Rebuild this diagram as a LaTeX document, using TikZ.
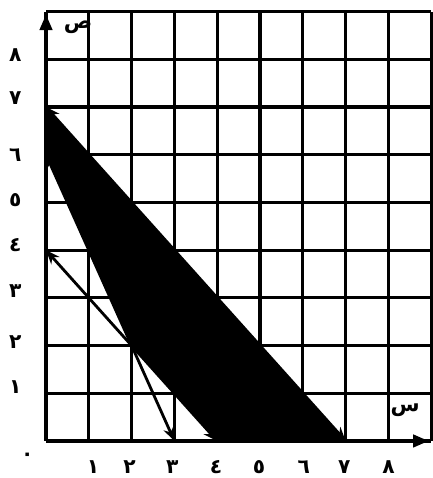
\documentclass[tikz,border=0pt]{standalone}
\usepackage{fontspec}
\newfontfamily\arabicfont[Script=Arabic]{DejaVu Sans}
\TeXXeTstate=1
\usepackage{tikz}
\usetikzlibrary{arrows.meta}

\begin{document}
\begin{tikzpicture}[
  x=0.856cm, y=0.954cm,
  gridline/.style={line width=1.8pt, black},
  axis/.style={line width=2.3pt, -{Triangle[length=0.32cm, width=0.24cm]}},
  region/.style={fill=black, draw=none},
  bound/.style={line width=1.6pt,
    {Stealth[length=0.28cm, width=0.22cm]}-{Stealth[length=0.28cm, width=0.22cm]}},
  num/.style={font=\arabicfont\bfseries\fontsize{11.5}{13}\selectfont, inner sep=0pt},
  axlbl/.style={font=\arabicfont\bfseries\fontsize{12}{14}\selectfont, inner sep=0pt}
]
\useasboundingbox (-1.075,-0.776) rectangle (9.019,9.245);

%% ── GRID ─────────────────────────────────────────────────
\draw[gridline, step={(1,1)}] (0,0) grid (9,9);

%% ── CORNER POINTS ────────────────────────────────────────
\coordinate (o)  at (0,0);
\coordinate (y4) at (0,4);
\coordinate (y6) at (0,6);
\coordinate (y7) at (0,7);
\coordinate (x3) at (3,0);
\coordinate (x4) at (4,0);
\coordinate (x7) at (7,0);
\coordinate (pt) at (2,2);
\coordinate (xend) at (8.95,0);
\coordinate (yend) at (0,8.95);

%% ── SHADED REGION ────────────────────────────────────────
\fill[region] (y7) -- (x7) -- (x4) -- (pt) -- (y6) -- cycle;

%% Boundary lines
\draw[bound] (y7) -- (x7);
\draw[bound] (y6) -- (x3);
\draw[bound] (y4) -- (x4);

%% ── AXES ─────────────────────────────────────────────────
\draw[axis] (o) -- (xend);
\draw[axis] (o) -- (yend);

\node[axlbl] (xlbl) at (8.39,0.65) {\beginR س\endR};
\node[axlbl] (ylbl) at (0.75,8.68) {\beginR ص\endR};

%% Numbers on x-axis
\node[num] (n0) at (-0.44,-0.34) {٠};
\node[num] (x1lbl) at (1.1,-0.55) {١};
\node[num] (x2lbl) at (1.95,-0.55) {٢};
\node[num] (x3lbl) at (2.95,-0.55) {٣};
\node[num] (x4lbl) at (3.97,-0.55) {٤};
\node[num] (x5lbl) at (4.98,-0.55) {٥};
\node[num] (x6lbl) at (6.02,-0.55) {٦};
\node[num] (x7lbl) at (6.97,-0.55) {٧};
\node[num] (x8lbl) at (8.0,-0.55) {٨};

%% Numbers on y-axis
\node[num] (y1lbl) at (-0.72,1.12) {١};
\node[num] (y2lbl) at (-0.72,2.08) {٢};
\node[num] (y3lbl) at (-0.72,3.15) {٣};
\node[num] (y4lbl) at (-0.72,4.1) {٤};
\node[num] (y5lbl) at (-0.72,5.05) {٥};
\node[num] (y6lbl) at (-0.72,6.0) {٦};
\node[num] (y7lbl) at (-0.72,7.18) {٧};
\node[num] (y8lbl) at (-0.72,8.1) {٨};

\end{tikzpicture}
\end{document}
